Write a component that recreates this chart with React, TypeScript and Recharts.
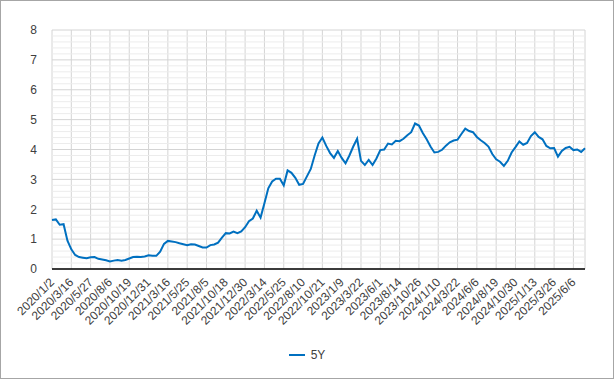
import { CartesianGrid, Legend, Line, LineChart, ReferenceLine, XAxis, YAxis } from "recharts";

// one point every ~10 trading days, 2020/1/2 .. 2025/7
const yields5Y = [
  1.64, 1.66, 1.48, 1.5, 0.95, 0.66, 0.47, 0.4, 0.38, 0.36,
  0.39, 0.4, 0.34, 0.32, 0.29, 0.25, 0.28, 0.3, 0.28, 0.3,
  0.35, 0.4, 0.41, 0.4, 0.42, 0.46, 0.44, 0.44, 0.58, 0.84,
  0.94, 0.92, 0.9, 0.86, 0.83, 0.8, 0.83, 0.82, 0.77, 0.72,
  0.72, 0.8, 0.82, 0.88, 1.05, 1.2, 1.19, 1.25, 1.2, 1.26,
  1.4, 1.6, 1.69, 1.95, 1.72, 2.2, 2.7, 2.93, 3.02, 3.02,
  2.8, 3.3, 3.22, 3.05, 2.82, 2.85, 3.1, 3.35, 3.8, 4.2,
  4.4, 4.12, 3.88, 3.72, 3.95, 3.72, 3.54, 3.8, 4.1, 4.36,
  3.62, 3.48, 3.65, 3.48, 3.7, 3.98, 4.0, 4.2, 4.17, 4.29,
  4.28, 4.36, 4.48, 4.58, 4.87, 4.8, 4.55, 4.34, 4.1, 3.9,
  3.92, 3.99, 4.13, 4.24, 4.3, 4.33, 4.52, 4.7, 4.62, 4.58,
  4.42, 4.31, 4.22, 4.1, 3.85, 3.67, 3.59, 3.45, 3.62, 3.9,
  4.08, 4.27, 4.16, 4.22, 4.45, 4.58, 4.42, 4.34, 4.12, 4.04,
  4.05, 3.76, 3.95, 4.05, 4.09, 3.98, 4.0, 3.92, 4.04,
];

// a label every 5 points
const tickLabels = [
  "2020/1/2", "2020/3/16", "2020/5/27", "2020/8/6", "2020/10/19", "2020/12/31",
  "2021/3/16", "2021/5/25", "2021/8/5", "2021/10/18", "2021/12/30", "2022/3/14",
  "2022/5/25", "2022/8/10", "2022/10/21", "2023/1/9", "2023/3/22", "2023/6/1",
  "2023/8/14", "2023/10/26", "2024/1/10", "2024/3/22", "2024/6/6", "2024/8/19",
  "2024/10/30", "2025/1/13", "2025/3/26", "2025/6/6",
];

const yTicks = [0, 1, 2, 3, 4, 5, 6, 7, 8];
const minorLines = Array.from({ length: 40 }, (_, i) => +(i * 0.2).toFixed(1)).filter(
  (v) => v % 1 !== 0
);

const data = yields5Y.map((v, i) => ({ i, v }));
const xTicks = tickLabels.map((_, k) => k * 5);

const font = "'Liberation Sans', Arial, sans-serif";

const DateTick = ({ x, y, payload }: any) => {
  const tx = x + 3;
  const ty = y + 14;
  return (
    <text
      x={tx}
      y={ty}
      transform={`rotate(-45 ${tx} ${ty})`}
      textAnchor="end"
      fontSize={12}
      fill="#404040"
      fontFamily={font}
    >
      {tickLabels[Math.round(payload.value / 5)]}
    </text>
  );
};

const LegendBox = () => (
  <div
    style={{
      height: 20,
      display: "flex",
      justifyContent: "center",
      alignItems: "center",
      fontFamily: font,
      fontSize: 12,
      color: "#404040",
    }}
  >
    <svg width={16} height={4} style={{ marginRight: 6 }}>
      <line x1={0} y1={2} x2={16} y2={2} stroke="#0070C0" strokeWidth={2} />
    </svg>
    <span>5Y</span>
  </div>
);

export default function App() {
  return (
    <div
      style={{
        position: "absolute",
        left: 0,
        top: 0,
        width: 614,
        height: 379,
        boxSizing: "border-box",
        border: "1px solid #a6a6a6",
        background: "#fff",
      }}
    >
      <LineChart
        width={612}
        height={377}
        data={data}
        margin={{ top: 29, right: 28, left: 0, bottom: 13 }}
        style={{ fontFamily: font }}
      >
        {minorLines.map((v) => (
          <ReferenceLine key={v} y={v} stroke="#ececec" strokeWidth={1} />
        ))}
        <CartesianGrid stroke="#d4d4d4" />
        <XAxis
          dataKey="i"
          type="number"
          domain={[0, yields5Y.length - 1]}
          ticks={xTicks}
          interval={0}
          tick={<DateTick />}
          tickLine={false}
          tickSize={0}
          tickMargin={0}
          height={76}
          axisLine={{ stroke: "#000", strokeWidth: 1.5 }}
        />
        <YAxis
          domain={[0, 8]}
          ticks={yTicks}
          width={51}
          axisLine={false}
          tickLine={false}
          tickSize={0}
          tickMargin={15}
          tick={{ fontSize: 12, fill: "#404040" }}
        />
        <Legend
          verticalAlign="bottom"
          content={<LegendBox />}
          wrapperStyle={{ left: 0, width: 612 }}
        />
        <Line
          dataKey="v"
          stroke="#0070C0"
          strokeWidth={2}
          dot={false}
          isAnimationActive={false}
        />
      </LineChart>
    </div>
  );
}
